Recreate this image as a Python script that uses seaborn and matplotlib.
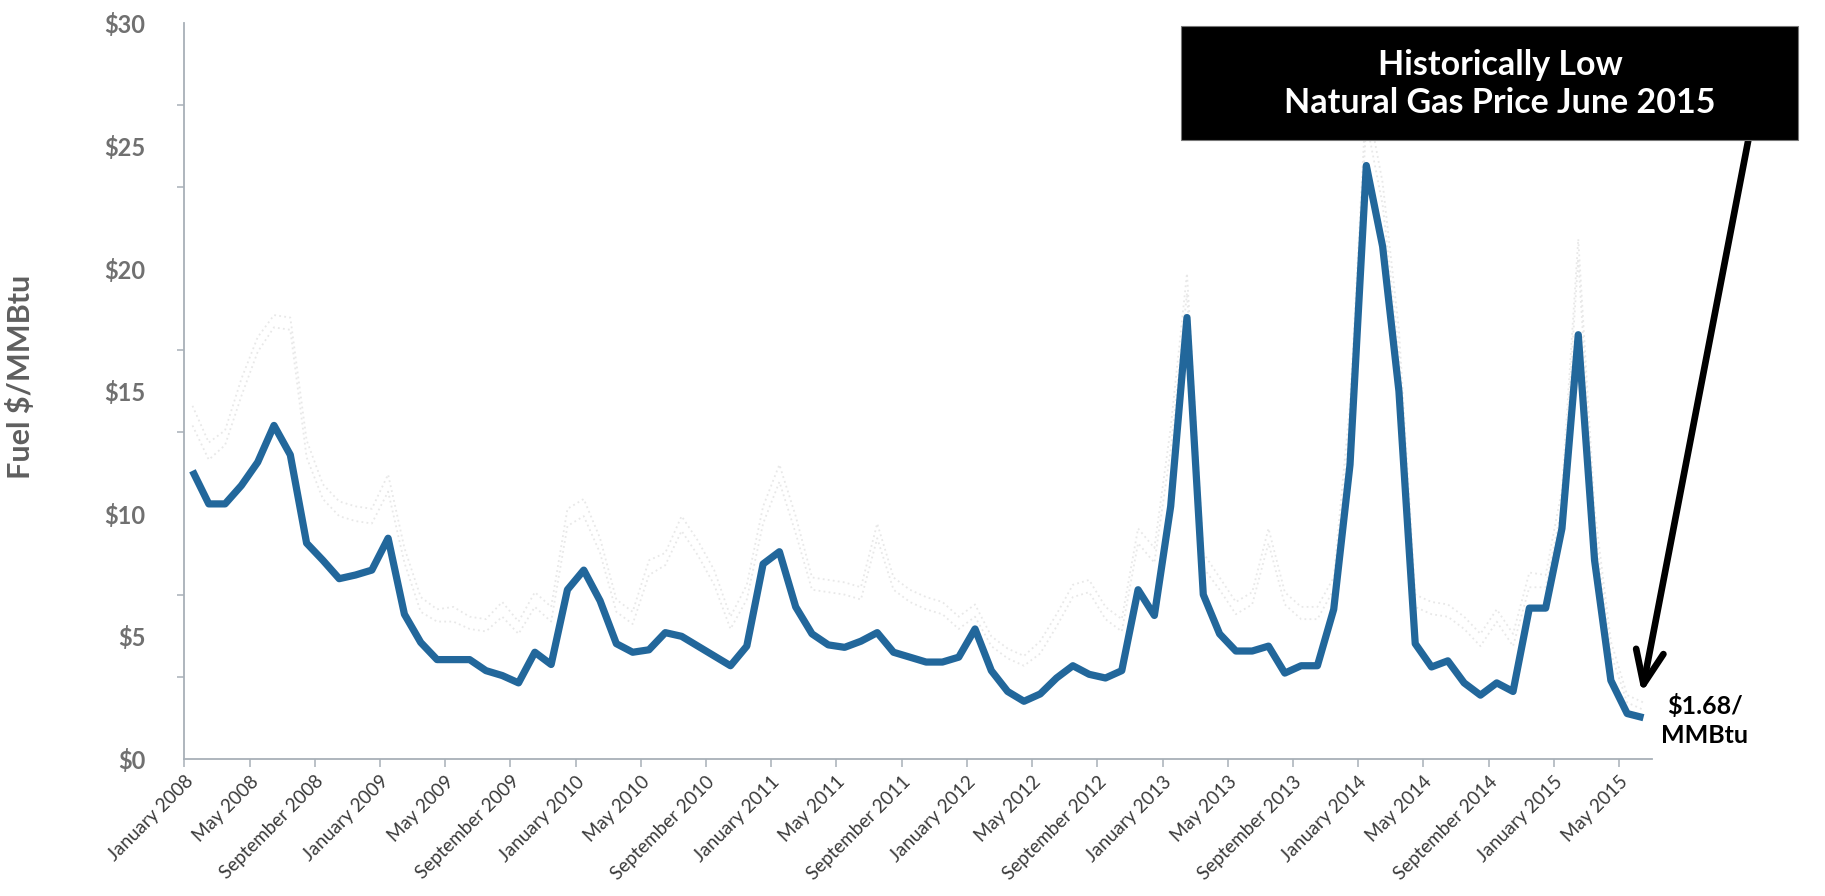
import matplotlib
matplotlib.use("Agg")
import matplotlib.pyplot as plt
from matplotlib.patches import Rectangle
from matplotlib.ticker import FixedLocator
import numpy as np
import pandas as pd
import seaborn as sns

# Monthly fuel price, January 2008 - June 2015 ($/MMBtu)
gas_price = [
    11.75, 10.4, 10.4, 11.15, 12.1, 13.6, 12.4, 8.8, 8.1, 7.35, 7.5, 7.7,
    9.0, 5.9, 4.75, 4.05, 4.05, 4.05, 3.6, 3.4, 3.1, 4.35, 3.85, 6.9,
    7.7, 6.45, 4.7, 4.35, 4.45, 5.15, 5.0, 4.6, 4.2, 3.8, 4.6, 7.95,
    8.45, 6.2, 5.1, 4.65, 4.55, 4.8, 5.15, 4.35, 4.15, 3.95, 3.95, 4.15,
    5.3, 3.6, 2.75, 2.35, 2.65, 3.3, 3.8, 3.45, 3.3, 3.6, 6.9, 5.85,
    10.3, 18.0, 6.7, 5.1, 4.4, 4.4, 4.6, 3.5, 3.8, 3.8, 6.1, 12.0,
    24.2, 20.9, 15.0, 4.7, 3.75, 4.0, 3.1, 2.6, 3.1, 2.75, 6.15, 6.15,
    9.4, 17.3, 8.1, 3.2, 1.85, 1.68,
]

# Faint reference series drawn behind the main line
ref_high = [
    14.4, 12.9, 13.4, 15.5, 17.2, 18.1, 18.0, 13.0, 11.2, 10.5, 10.3, 10.2,
    11.6, 8.6, 6.6, 6.1, 6.2, 5.8, 5.7, 6.4, 5.6, 6.8, 6.2, 10.2,
    10.6, 9.0, 6.5, 6.0, 8.1, 8.4, 9.9, 8.9, 7.7, 5.8, 7.1, 10.3,
    12.0, 9.9, 7.4, 7.3, 7.2, 7.0, 9.6, 7.4, 6.9, 6.6, 6.4, 5.8,
    6.3, 5.0, 4.5, 4.2, 4.8, 5.9, 7.1, 7.3, 6.2, 5.7, 9.4, 8.6,
    13.5, 19.8, 8.4, 7.4, 6.4, 6.8, 9.4, 6.8, 6.2, 6.2, 7.4, 14.5,
    27.0, 23.5, 17.5, 6.7, 6.4, 6.3, 5.8, 5.1, 6.1, 5.1, 7.6, 7.5,
    11.0, 21.2, 10.2, 4.8, 2.6, 2.3,
]
ref_low = [
    13.6, 12.2, 12.8, 14.8, 16.6, 17.6, 17.5, 12.3, 10.6, 9.9, 9.7, 9.6,
    10.9, 8.0, 6.0, 5.6, 5.6, 5.3, 5.2, 5.8, 5.1, 6.2, 5.6, 9.5,
    9.9, 8.4, 6.0, 5.5, 7.5, 7.9, 9.3, 8.3, 7.1, 5.3, 6.5, 9.6,
    11.3, 9.2, 6.9, 6.8, 6.7, 6.5, 9.0, 6.9, 6.4, 6.1, 5.9, 5.3,
    5.8, 4.6, 4.1, 3.8, 4.3, 5.4, 6.6, 6.8, 5.7, 5.2, 8.8, 8.0,
    12.6, 19.0, 7.8, 6.9, 5.9, 6.3, 8.8, 6.3, 5.7, 5.7, 6.9, 13.6,
    26.0, 22.6, 16.6, 6.2, 5.9, 5.8, 5.3, 4.6, 5.6, 4.6, 7.0, 7.0,
    10.3, 20.4, 9.5, 4.3, 2.3, 2.0,
]

tick_labels = [
    "January 2008", "May 2008", "September 2008",
    "January 2009", "May 2009", "September 2009",
    "January 2010", "May 2010", "September 2010",
    "January 2011", "May 2011", "September 2011",
    "January 2012", "May 2012", "September 2012",
    "January 2013", "May 2013", "September 2013",
    "January 2014", "May 2014", "September 2014",
    "January 2015", "May 2015",
]
y_values = [0, 5, 10, 15, 20, 25, 30]
y_labels = ["$0", "$5", "$10", "$15", "$20", "$25", "$30"]

callout_text = "Historically Low\nNatural Gas Price June 2015"
end_label = "$1.68/\nMMBtu"

sns.set_style("white")
plt.rcParams["font.family"] = ["Lato", "DejaVu Sans"]

df = pd.DataFrame({
    "month": np.arange(len(gas_price)),
    "price": gas_price,
    "high": ref_high,
    "low": ref_low,
})

fig = plt.figure(figsize=(18.25, 8.96), dpi=100)
ax = fig.add_axes([0.101, 0.153, 0.804, 0.821])

faint = dict(color="#e8e8e8", linewidth=1.3, linestyle=(0, (1, 1.8)))
sns.lineplot(data=df, x="month", y="high", ax=ax, **faint)
sns.lineplot(data=df, x="month", y="low", ax=ax, **faint)
sns.lineplot(data=df, x="month", y="price", ax=ax, color="#22679b",
             linewidth=5.2, solid_joinstyle="round", solid_capstyle="butt")

ax.set_xlim(-0.5, len(gas_price) - 0.5)
ax.set_ylim(0, 30)

# x axis: a tick every four months, at the month boundaries
ax.set_xticks(np.arange(len(tick_labels)) * 4 - 0.5)
ax.set_xticklabels(tick_labels, rotation=45, ha="right", va="top",
                   rotation_mode="anchor", fontsize=13.5, color="#3a3a3a")
ax.tick_params(axis="x", which="major", direction="out", length=6,
               width=1.1, color="#a8b0b8", pad=4, bottom=True)

# y axis: labels every $5, tick marks every third of $10
ax.set_yticks(y_values)
ax.set_yticklabels(y_labels, fontsize=17, fontweight="bold", color="#707070")
ax.tick_params(axis="y", which="major", length=0, pad=28)
ax.yaxis.set_minor_locator(FixedLocator([i * 10 / 3 for i in range(10)]))
ax.tick_params(axis="y", which="minor", direction="out", length=5,
               width=1.1, color="#a8b0b8", left=True)

ax.set_xlabel("")
ax.set_ylabel("Fuel $/MMBtu", fontsize=22, fontweight="bold", color="#5f5f5f")
ax.yaxis.set_label_coords(-0.102, 0.52)

for side in ("top", "right"):
    ax.spines[side].set_visible(False)
for side in ("left", "bottom"):
    ax.spines[side].set_color("#a8b0b8")
    ax.spines[side].set_linewidth(1.3)

# Callout box with arrow pointing to the latest price
box = Rectangle((0.647, 0.844), 0.338, 0.127, transform=fig.transFigure,
                facecolor="black", edgecolor="#777777", linewidth=0.8,
                zorder=10)
fig.patches.append(box)
fig.text(0.822, 0.906, callout_text, ha="center", va="center",
         fontsize=24.5, fontweight="bold", color="white", linespacing=1.25,
         zorder=11)

ax.annotate("", xy=(88.9, 2.7), xycoords="data",
            xytext=(0.958, 0.844), textcoords="figure fraction",
            arrowprops=dict(arrowstyle="->,head_length=2.4,head_width=1.0",
                            color="black", lw=4.8, shrinkA=0, shrinkB=0),
            annotation_clip=False, zorder=12)

fig.text(0.934, 0.196, end_label, ha="center", va="center",
         fontsize=18, fontweight="bold", color="black", linespacing=1.3)

fig.savefig("out.png", dpi=100)
